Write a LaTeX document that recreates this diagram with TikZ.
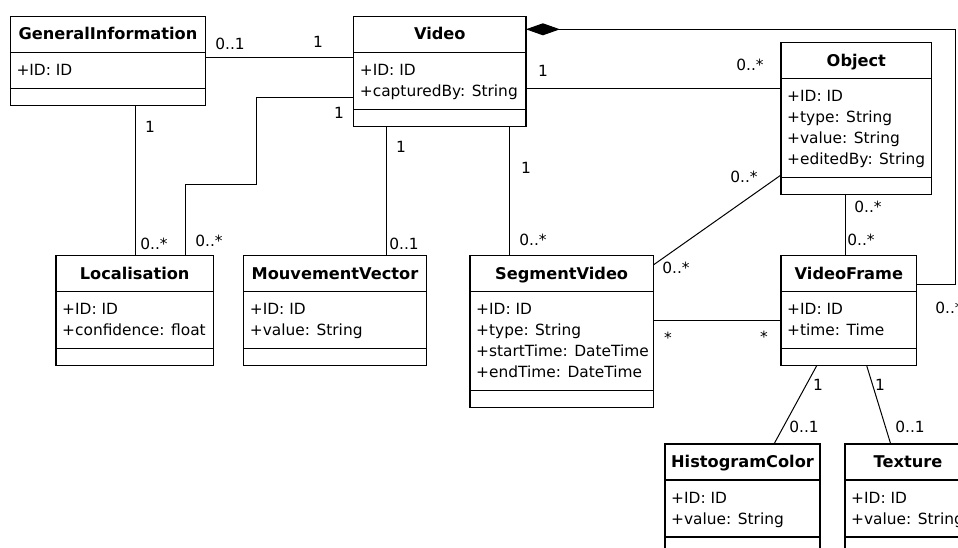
\documentclass[tikz,border=0pt]{standalone}
\usepackage{fontspec}
\setmainfont{DejaVu Sans}
\usetikzlibrary{calc,arrows.meta}
\tikzset{classbox/.style={draw, line width=1.2pt, inner sep=0pt, outer sep=0pt, anchor=north west}}
\tikzset{classtitle/.style={font=\fontsize{16.2}{21}\selectfont\bfseries, anchor=base, inner sep=0pt}}
\tikzset{attr/.style={font=\fontsize{15.4}{21}\selectfont, anchor=base west, inner sep=0pt}}
\tikzset{mult/.style={font=\fontsize{15.4}{21}\selectfont, inner sep=0pt}}
\tikzset{assoc/.style={line width=1pt}}
\tikzset{composite/.style={line width=1pt, -{Diamond[length=34pt,width=12pt]}}}
% name, x, y, width, lines, title, attributes
\newcommand{\umlclass}[7]{%
  \node[classbox, minimum width=#4pt, minimum height={68pt+21pt*#5}] (#1) at (#2,#3) {};
  \draw[line width=1.2pt] ([yshift=-36pt]#1.north west) -- ([yshift=-36pt]#1.north east);
  \draw[line width=1.2pt] ([yshift=17pt]#1.south west) -- ([yshift=17pt]#1.south east);
  \node[classtitle] (#1-t) at ([yshift=-23.5pt]#1.north) {#6};
  \foreach \field [count=\i] in {#7}
    \node[attr] (#1-a\i) at ([xshift=6pt,yshift={-59pt-21pt*(\i-1)}]#1.north west) {\field};
}

\begin{document}
\begin{tikzpicture}[x=1pt,y=-1pt]
		\useasboundingbox (0,0) rectangle (958,548);
		% classes
		\umlclass{gi}{10.3}{16.5}{195.3}{1}{GeneralInformation}{+ID: ID}
		\umlclass{video}{353.7}{16.5}{172.2}{2}{Video}{+ID: ID, +capturedBy: String}
		\umlclass{obj}{781}{42.7}{150.7}{4}{Object}{+ID: ID, +type: String, +value: String, +editedBy: String}
		\umlclass{loc}{56}{255.7}{157.3}{2}{Localisation}{+ID: ID, +confidence: float}
		\umlclass{mv}{243.7}{255.7}{182.6}{2}{MouvementVector}{+ID: ID, +value: String}
		\umlclass{sv}{470}{255.7}{183.3}{4}{SegmentVideo}{+ID: ID, +type: String, +startTime: DateTime, +endTime: DateTime}
		\umlclass{vf}{781}{255.7}{135.7}{2}{VideoFrame}{+ID: ID, +time: Time}
		\umlclass{hc}{665}{444}{155}{2}{HistogramColor}{+ID: ID, +value: String}
		\umlclass{tex}{845}{444}{126}{2}{Texture}{+ID: ID, +value: String}
		% associations
		\draw[assoc] ([yshift=-41pt]gi.north east) -- ([yshift=-41pt]video.north west);
		\coordinate (gl) at ([xshift=79.3pt]loc.north west);
		\draw[assoc] (gi.south -| gl) -- (gl);
		\draw[assoc] ([yshift=-81pt]video.north west) -- ++(-97.1,0) -- ++(0,87.5) -| ([xshift=129.3pt]loc.north west);
		\coordinate (vm) at ([xshift=142.7pt]mv.north west);
		\draw[assoc] (video.south -| vm) -- (vm);
		\coordinate (vs) at ([xshift=39.3pt]sv.north west);
		\draw[assoc] (video.south -| vs) -- (vs);
		\coordinate (vo) at ([yshift=-45.6pt]obj.north west);
		\draw[assoc] (vo -| video.east) -- (vo);
		\draw[assoc] ([yshift=-132.3pt]obj.north west) -- ([yshift=-9.3pt]sv.north east);
		\coordinate (ov) at ([xshift=64.7pt]vf.north west);
		\draw[assoc] (obj.south -| ov) -- (ov);
		\coordinate (sf) at ([yshift=-65pt]vf.north west);
		\draw[assoc] (sf -| sv.east) -- (sf);
		\draw[composite] ([yshift=-28.6pt]vf.north east) -- ++(39,0) |- ([yshift=-12.8pt]video.north east);
		\draw[assoc] ([xshift=35.7pt]vf.south west) -- ([xshift=109pt]hc.north west);
		\draw[assoc] ([xshift=85.7pt]vf.south west) -- ([xshift=45.7pt]tex.north west);
		% multiplicities
		\foreach \x/\y/\lab [count=\i] in {230/44/0..1, 318/42/1, 150/127/1, 154/244/0..*, 339/113/1, 209/241/0..*, 401/147/1, 404/244/0..1, 526/168/1, 533/240/0..*, 543/71/1, 750/65/0..*, 744/177/0..*, 676/268/0..*, 868/207/0..*, 861/240/0..*, 668/338/*, 764/337/*, 949/308/0..*, 818/385/1, 880/385/1, 804/427/0..1, 910/427/0..1}
		{\node[mult] (m\i) at (\x,\y) {\lab};
		}
\end{tikzpicture}
\end{document}
